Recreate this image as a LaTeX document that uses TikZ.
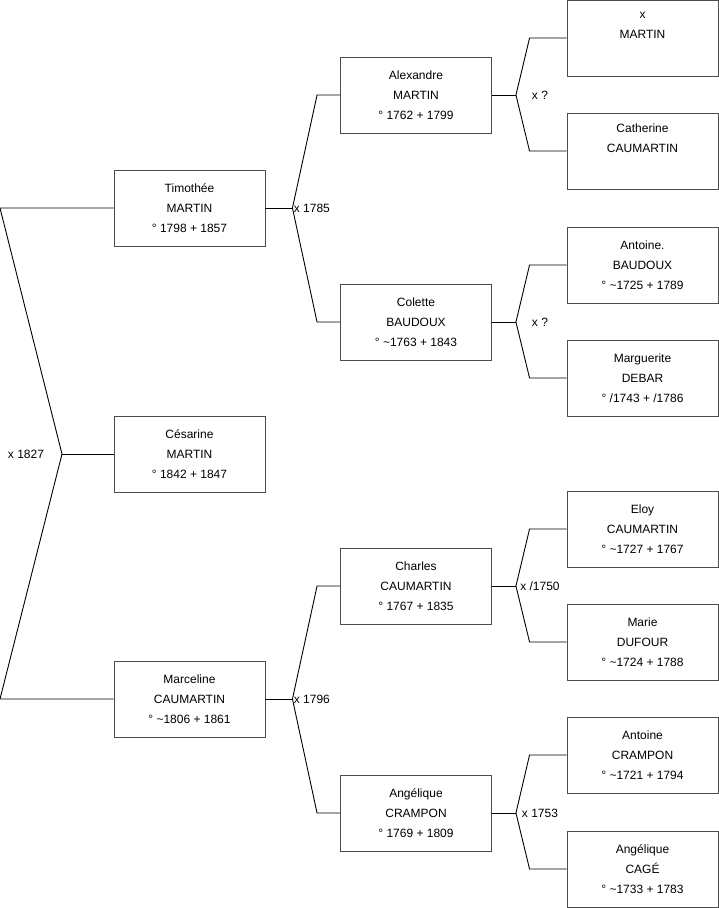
\documentclass[tikz,border=0pt]{standalone}
\usepackage{fontspec}
\setmainfont{Liberation Sans}
\usetikzlibrary{positioning,calc}

\begin{document}
\begin{tikzpicture}[x=1pt,y=-1pt,line width=0.9pt,
    person/.style={draw=black!70,rectangle,minimum width=151pt,minimum height=76pt,inner sep=0pt,align=center,font=\fontsize{12}{20}\selectfont},
    union/.style={font=\fontsize{12}{14}\selectfont,inner sep=0pt}]
\useasboundingbox (0,0) rectangle (719,908);

% generation 1
\node[person] (tim) at (189.5,208) {Timothée\\MARTIN\\° 1798 + 1857};
\node[person] (ces) at (189.5,454) {Césarine\\MARTIN\\° 1842 + 1847};
\node[person] (mar) at (189.5,699) {Marceline\\CAUMARTIN\\° \textasciitilde1806 + 1861};

% generation 2
\node[person] (alex) at (416,95) {Alexandre\\MARTIN\\° 1762 + 1799};
\node[person] (col) at (416,322) {Colette\\BAUDOUX\\° \textasciitilde1763 + 1843};
\node[person] (cha) at (416,586) {Charles\\CAUMARTIN\\° 1767 + 1835};
\node[person] (ang) at (416,813) {Angélique\\CRAMPON\\° 1769 + 1809};

% generation 3
\node[person] (xmar) at (642.5,38) {x\\MARTIN\\\strut};
\node[person] (cat) at (642.5,151) {Catherine\\CAUMARTIN\\\strut};
\node[person] (ant) at (642.5,265) {Antoine.\\BAUDOUX\\° \textasciitilde1725 + 1789};
\node[person] (marg) at (642.5,378) {Marguerite\\DEBAR\\° /1743 + /1786};
\node[person] (eloy) at (642.5,529) {Eloy\\CAUMARTIN\\° \textasciitilde1727 + 1767};
\node[person] (marie) at (642.5,642) {Marie\\DUFOUR\\° \textasciitilde1724 + 1788};
\node[person] (antc) at (642.5,755) {Antoine\\CRAMPON\\° \textasciitilde1721 + 1794};
\node[person] (angc) at (642.5,869) {Angélique\\CAGÉ\\° \textasciitilde1733 + 1783};

% left bracket
\coordinate (l1) at (0,208);
\coordinate (l2) at (0,699);
\coordinate (m0) at (62,454);
\draw (tim.west) -- (l1) -- (m0) -- (l2) -- (mar.west);
\draw (m0) -- (ces.west);
\node[union] (u0) at (26,454) {x 1827};

% marriages of generation 1
\foreach \kid/\pa/\ma/\yr in {tim/alex/col/{x 1785}, mar/cha/ang/{x 1796}}{
  \coordinate (b-\kid) at ([xshift=27pt]\kid.east);
  \draw (\pa.west) -- ([xshift=-23pt]\pa.west) -- (b-\kid) -- ([xshift=-23pt]\ma.west) -- (\ma.west);
  \draw (\kid.east) -- (b-\kid);
  \node[union,anchor=west] (u-\kid) at ([xshift=1pt]b-\kid) {\yr};
}

% marriages of generation 2
\foreach \kid/\pa/\ma/\yr in {alex/xmar/cat/{x ?}, col/ant/marg/{x ?}, cha/eloy/marie/{x /1750}, ang/antc/angc/{x 1753}}{
  \coordinate (b-\kid) at ([xshift=24pt]\kid.east);
  \draw (\pa.west) -- ([xshift=-37pt]\pa.west) -- (b-\kid) -- ([xshift=-37pt]\ma.west) -- (\ma.west);
  \draw (\kid.east) -- (b-\kid);
  \node[union] (u-\kid) at ([xshift=24pt]b-\kid) {\yr};
}
\end{tikzpicture}
\end{document}
